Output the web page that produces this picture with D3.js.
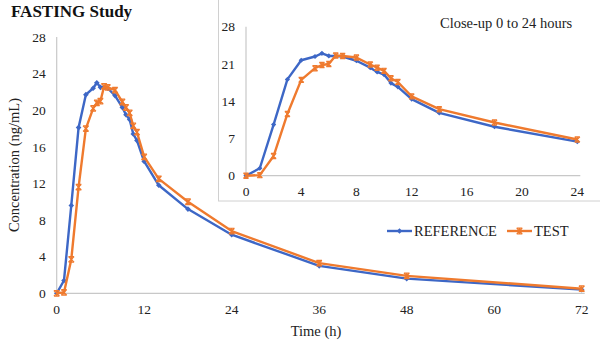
<!DOCTYPE html>
<html>
<head>
<meta charset="utf-8">
<script src="https://cdn.jsdelivr.net/npm/d3@7"></script>
<style>
  body { margin: 0; background: #fff; }
  svg { display: block; font-family: "Liberation Serif", "Times New Roman", serif; }
</style>
</head>
<body>
<svg id="chart" width="600" height="344"></svg>
<script>
// sampling times (h) and concentrations (ng/mL)
const times = [0, 1, 2, 3, 4, 5, 5.5, 6, 6.5, 7, 8, 9, 9.5, 10, 10.5, 11, 12, 14, 18, 24, 36, 48, 72];
const reference = [0, 1.4, 9.6, 18.1, 21.7, 22.4, 23.0, 22.5, 22.5, 22.4, 21.6, 20.3, 19.5, 19.0, 17.4, 16.7, 14.4, 11.8, 9.2, 6.4, 3.0, 1.6, 0.4];
const test = [0, 0.1, 3.7, 11.6, 18.0, 20.2, 20.8, 21.0, 22.6, 22.5, 22.2, 20.9, 20.3, 19.7, 18.3, 17.6, 14.9, 12.5, 10.0, 6.8, 3.3, 1.9, 0.5];
const mainXTicks = [0, 12, 24, 36, 48, 60, 72];
const mainYTicks = [0, 4, 8, 12, 16, 20, 24, 28];
const insetXTicks = [0, 4, 8, 12, 16, 20, 24];
const insetYTicks = [0, 7, 14, 21, 28];

const BLUE = '#3d67c6';
const ORANGE = '#ef7a2e';
const AXIS = '#c8c8c8';

const svg = d3.select('#chart');

function diamond(g, x, y, s) {
  g.append('path')
    .attr('d', `M${x},${y - s}L${x + s},${y}L${x},${y + s}L${x - s},${y}Z`)
    .attr('fill', BLUE);
}

function star(g, x, y, s) {
  g.append('path')
    .attr('d', `M${x - s},${y - s}L${x + s},${y + s}M${x - s},${y + s}L${x + s},${y - s}M${x},${y - s}L${x},${y + s}M${x - s},${y - s}L${x + s},${y - s}M${x - s},${y + s}L${x + s},${y + s}`)
    .attr('stroke', ORANGE)
    .attr('stroke-width', 1.2)
    .attr('fill', 'none');
}

function panel(opts) {
  const { x, y, xTicks, yTicks, maxT, ms, fontSize } = opts;
  const g = svg.append('g');

  // axis lines
  g.append('line')
    .attr('x1', x(0)).attr('x2', x(0))
    .attr('y1', y.range()[1]).attr('y2', y.range()[0])
    .attr('stroke', AXIS).attr('stroke-width', 1.2);
  g.append('line')
    .attr('x1', x(0)).attr('x2', x.range()[1] + 3)
    .attr('y1', y(0)).attr('y2', y(0))
    .attr('stroke', AXIS).attr('stroke-width', 1.2);

  g.selectAll('.yt').data(yTicks).join('text')
    .attr('x', x(0) - 11).attr('y', d => y(d)).attr('dy', '0.35em')
    .attr('text-anchor', 'end').attr('font-size', fontSize).attr('fill', '#222')
    .text(d => d);
  g.selectAll('.xt').data(xTicks).join('text')
    .attr('x', d => x(d)).attr('y', y(0) + 16)
    .attr('dy', '0.35em')
    .attr('text-anchor', 'middle').attr('font-size', fontSize).attr('fill', '#222')
    .text(d => d);

  const line = d3.line().x(d => x(d[0])).y(d => y(d[1]));
  const refPts = times.map((t, i) => [t, reference[i]]).filter(d => d[0] <= maxT);
  const testPts = times.map((t, i) => [t, test[i]]).filter(d => d[0] <= maxT);

  g.append('path').datum(refPts).attr('d', line)
    .attr('fill', 'none').attr('stroke', BLUE).attr('stroke-width', 2.4)
    .attr('stroke-linejoin', 'round');
  refPts.forEach(d => diamond(g, x(d[0]), y(d[1]), ms));

  g.append('path').datum(testPts).attr('d', line)
    .attr('fill', 'none').attr('stroke', ORANGE).attr('stroke-width', 2.4)
    .attr('stroke-linejoin', 'round');
  testPts.forEach(d => star(g, x(d[0]), y(d[1]), ms));
  return g;
}

// main chart
const xMain = d3.scaleLinear().domain([0, 72]).range([56.7, 581.7]);
const yMain = d3.scaleLinear().domain([0, 28]).range([293.3, 37]);
panel({ x: xMain, y: yMain, xTicks: mainXTicks, yTicks: mainYTicks, maxT: 72, ms: 2.8, fontSize: 13.5 });

svg.append('text').attr('x', 11).attr('y', 17)
  .attr('font-size', 17).attr('font-weight', 'bold').attr('fill', '#111')
  .text('FASTING Study');

svg.append('text').attr('x', 316).attr('y', 336)
  .attr('text-anchor', 'middle').attr('font-size', 14.5).attr('fill', '#222')
  .text('Time (h)');

svg.append('text')
  .attr('transform', 'translate(19,165) rotate(-90)')
  .attr('text-anchor', 'middle').attr('font-size', 14.5).attr('fill', '#222')
  .text('Concentration (ng/mL)');

// inset box
svg.append('rect')
  .attr('x', 218.5).attr('y', -2).attr('width', 400).attr('height', 203)
  .attr('fill', '#fff').attr('stroke', '#d0d0d0').attr('stroke-width', 1);

const xIn = d3.scaleLinear().domain([0, 24]).range([246, 577.3]);
const yIn = d3.scaleLinear().domain([0, 28]).range([175.7, 26.7]);
panel({ x: xIn, y: yIn, xTicks: insetXTicks, yTicks: insetYTicks, maxT: 24, ms: 2.6, fontSize: 13.5 });

svg.append('text').attr('x', 440).attr('y', 28)
  .attr('font-size', 14.5).attr('fill', '#222')
  .text('Close-up 0 to 24 hours');

// legend
const leg = svg.append('g');
const legendItems = [
  { name: 'REFERENCE', color: BLUE, x0: 387, kind: 'ref' },
  { name: 'TEST', color: ORANGE, x0: 507, kind: 'test' }
];
legendItems.forEach(it => {
  leg.append('line').attr('x1', it.x0).attr('x2', it.x0 + 25)
    .attr('y1', 231).attr('y2', 231)
    .attr('stroke', it.color).attr('stroke-width', 2.4);
  if (it.kind === 'ref') diamond(leg, it.x0 + 12.5, 231, 2.8);
  else star(leg, it.x0 + 12.5, 231, 2.8);
  leg.append('text').attr('x', it.x0 + 27).attr('y', 231).attr('dy', '0.35em')
    .attr('font-size', 14.5).attr('fill', '#222').text(it.name);
});
</script>
</body>
</html>
